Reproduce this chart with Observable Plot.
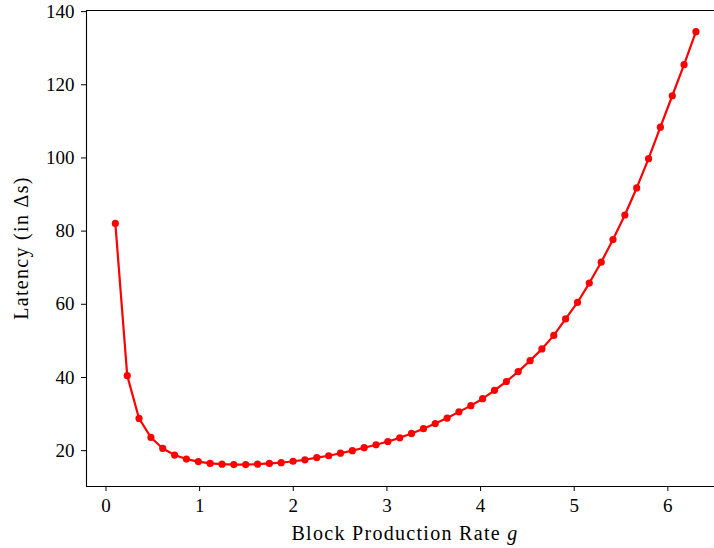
<!DOCTYPE html>
<html>
<head>
<meta charset="utf-8">
<script src="https://cdn.jsdelivr.net/npm/d3@7"></script>
<script src="https://cdn.jsdelivr.net/npm/@observablehq/plot@0.6"></script>
<style>
  html, body { margin: 0; padding: 0; background: #fff; overflow: hidden; }
  #chart { width: 714px; height: 548px; }
</style>
</head>
<body>
<div id="chart"></div>
<script>
// Block production rate g (x values)
const rate = [0.100, 0.227, 0.353, 0.480, 0.606, 0.733, 0.859, 0.986, 1.112, 1.239,
              1.365, 1.492, 1.618, 1.745, 1.871, 1.998, 2.124, 2.251, 2.378, 2.504,
              2.631, 2.757, 2.884, 3.010, 3.137, 3.263, 3.390, 3.516, 3.643, 3.769,
              3.896, 4.022, 4.149, 4.276, 4.402, 4.529, 4.655, 4.782, 4.908, 5.035,
              5.161, 5.288, 5.414, 5.541, 5.667, 5.794, 5.920, 6.047, 6.173, 6.300];
// Latency (in Δs)
const latency = [82.1, 40.5, 28.8, 23.6, 20.6, 18.8, 17.7, 17.0, 16.5, 16.3,
                 16.2, 16.2, 16.3, 16.5, 16.7, 17.1, 17.5, 18.1, 18.6, 19.3,
                 20.0, 20.8, 21.6, 22.5, 23.5, 24.7, 26.0, 27.4, 28.9, 30.6,
                 32.3, 34.2, 36.5, 38.9, 41.6, 44.6, 47.8, 51.5, 56.0, 60.5,
                 65.8, 71.5, 77.7, 84.4, 91.8, 99.8, 108.4, 117.0, 125.5, 134.5];
const xTicks = [0, 1, 2, 3, 4, 5, 6];
const yTicks = [20, 40, 60, 80, 100, 120, 140];

const data = rate.map((g, i) => ({g, latency: latency[i]}));

const fontFamily = "'Liberation Serif', 'DejaVu Serif', serif";
const fontSize = 19;
const labelSize = 20;

const svg = Plot.plot({
  width: 714,
  height: 548,
  marginLeft: 86,
  marginRight: 0,
  marginTop: 10,
  marginBottom: 62,
  style: {fontFamily, fontSize: fontSize + "px", background: "#fff", color: "#000", overflow: "visible"},
  x: {domain: [-0.208, 6.498]},
  y: {domain: [10.2, 140.3]},
  marks: [
    Plot.frame({anchor: "left", stroke: "#000", strokeWidth: 1.1}),
    Plot.frame({anchor: "bottom", stroke: "#000", strokeWidth: 1.1}),
    Plot.frame({anchor: "top", stroke: "#000", strokeWidth: 1.1}),
    Plot.axisX({ticks: xTicks, tickSize: 5, tickPadding: 7, label: null, tickFormat: d => String(d), fontSize}),
    Plot.axisY({ticks: yTicks, tickSize: 5, tickPadding: 7, label: null, tickFormat: d => String(d), fontSize}),
    Plot.line(data, {x: "g", y: "latency", stroke: "red", strokeWidth: 2.2}),
    Plot.dot(data, {x: "g", y: "latency", r: 3.6, fill: "red", stroke: "none"})
  ]
});

const sel = d3.select(svg);
const ys = svg.scale("y");
const xMid = (86 + 724) / 2;
const yMid = (ys.apply(140.3) + ys.apply(10.2)) / 2;

const xl = sel.append("text")
  .attr("x", xMid).attr("y", 540)
  .attr("text-anchor", "middle")
  .attr("font-family", fontFamily)
  .attr("font-size", labelSize)
  .attr("letter-spacing", 1.3)
  .attr("fill", "#000");
xl.append("tspan").text("Block Production Rate ");
xl.append("tspan").attr("font-style", "italic").text("g");

sel.append("text")
  .attr("transform", `translate(28,${yMid}) rotate(-90)`)
  .attr("text-anchor", "middle")
  .attr("font-family", fontFamily)
  .attr("font-size", labelSize)
  .attr("letter-spacing", 1.3)
  .attr("fill", "#000")
  .text("Latency (in Δs)");

document.getElementById("chart").appendChild(svg);
</script>
</body>
</html>
